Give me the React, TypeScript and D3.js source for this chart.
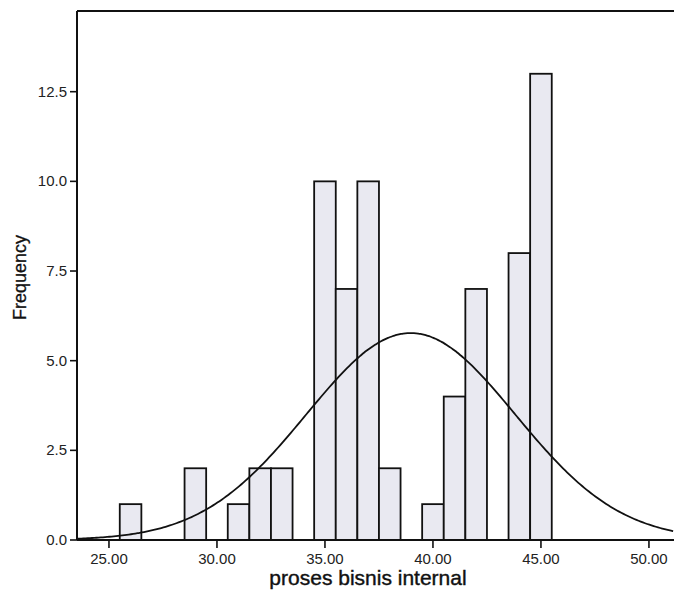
import React from "react";
import * as d3 from "d3";

// histogram bins (bin centres, width 1) and counts
const binCenters = [26, 29, 31, 32, 33, 35, 36, 37, 38, 40, 41, 42, 44, 45];
const counts = [1, 2, 1, 2, 2, 10, 7, 10, 2, 1, 4, 7, 8, 13];
const yTicks = [0, 2.5, 5, 7.5, 10, 12.5];
const xTicks = [25, 30, 35, 40, 45, 50];

const W = 674;
const H = 603;
const left = 77;
const top = 11;
const bottom = 540;

const App = () => {
  const x = d3.scaleLinear().domain([23.52, 51.16]).range([left, W]);
  const y = d3.scaleLinear().domain([0, 14.75]).range([bottom, top]);

  // normal curve fitted to the binned data
  const n = d3.sum(counts);
  const mean = d3.sum(binCenters, (c, i) => c * counts[i]) / n;
  const ss = d3.sum(binCenters, (c, i) => counts[i] * (c - mean) ** 2);
  const sd = Math.sqrt(ss / (n - 1));
  const xs = d3.range(23.52, 51.2, 0.1);
  const curve = d3
    .line<number>()
    .x((v) => x(v))
    .y((v) => y((n * 1) / (sd * Math.sqrt(2 * Math.PI)) * Math.exp(-((v - mean) ** 2) / (2 * sd * sd))))
    .curve(d3.curveBasis);

  const bars = binCenters.map((c, i) => (
    <rect
      key={c}
      x={x(c - 0.5)}
      y={y(counts[i])}
      width={x(c + 0.5) - x(c - 0.5)}
      height={bottom - y(counts[i])}
      fill="#e9e9f1"
      stroke="#111"
      strokeWidth={1.8}
    />
  ));

  return (
    <svg
      width={W}
      height={H}
      viewBox={`0 0 ${W} ${H}`}
      style={{ position: "absolute", left: 0, top: 0, background: "#fff" }}
      fontFamily="'Liberation Sans', Arial, sans-serif"
    >
      {bars}
      <path d={curve(xs) || ""} fill="none" stroke="#111" strokeWidth={1.8} />
      <line x1={left} x2={W} y1={top} y2={top} stroke="#111" strokeWidth={2} />
      <line x1={left} x2={left} y1={top} y2={bottom} stroke="#111" strokeWidth={2} />
      <line x1={left} x2={W} y1={bottom} y2={bottom} stroke="#111" strokeWidth={1.8} />
      {yTicks.map((t) => (
        <g key={t}>
          <line x1={left - 7} x2={left} y1={y(t)} y2={y(t)} stroke="#111" strokeWidth={1.6} />
          <text x={left - 10} y={y(t) + 5} textAnchor="end" fontSize={15} fill="#222">
            {t.toFixed(1)}
          </text>
        </g>
      ))}
      {xTicks.map((t) => (
        <g key={t}>
          <line x1={x(t)} x2={x(t)} y1={bottom} y2={bottom + 8} stroke="#111" strokeWidth={1.6} />
          <text x={x(t)} y={bottom + 24} textAnchor="middle" fontSize={15} fill="#222">
            {t.toFixed(2)}
          </text>
        </g>
      ))}
      <text
        transform={`translate(26,${(top + bottom) / 2 + 2}) rotate(-90)`}
        textAnchor="middle"
        fontSize={18}
        fill="#111"
        stroke="#111"
        strokeWidth={0.3}
      >
        Frequency
      </text>
      <text
        x={368}
        y={585}
        textAnchor="middle"
        fontSize={21}
        fill="#111"
        stroke="#111"
        strokeWidth={0.4}
      >
        proses bisnis internal
      </text>
    </svg>
  );
};

export default App;
